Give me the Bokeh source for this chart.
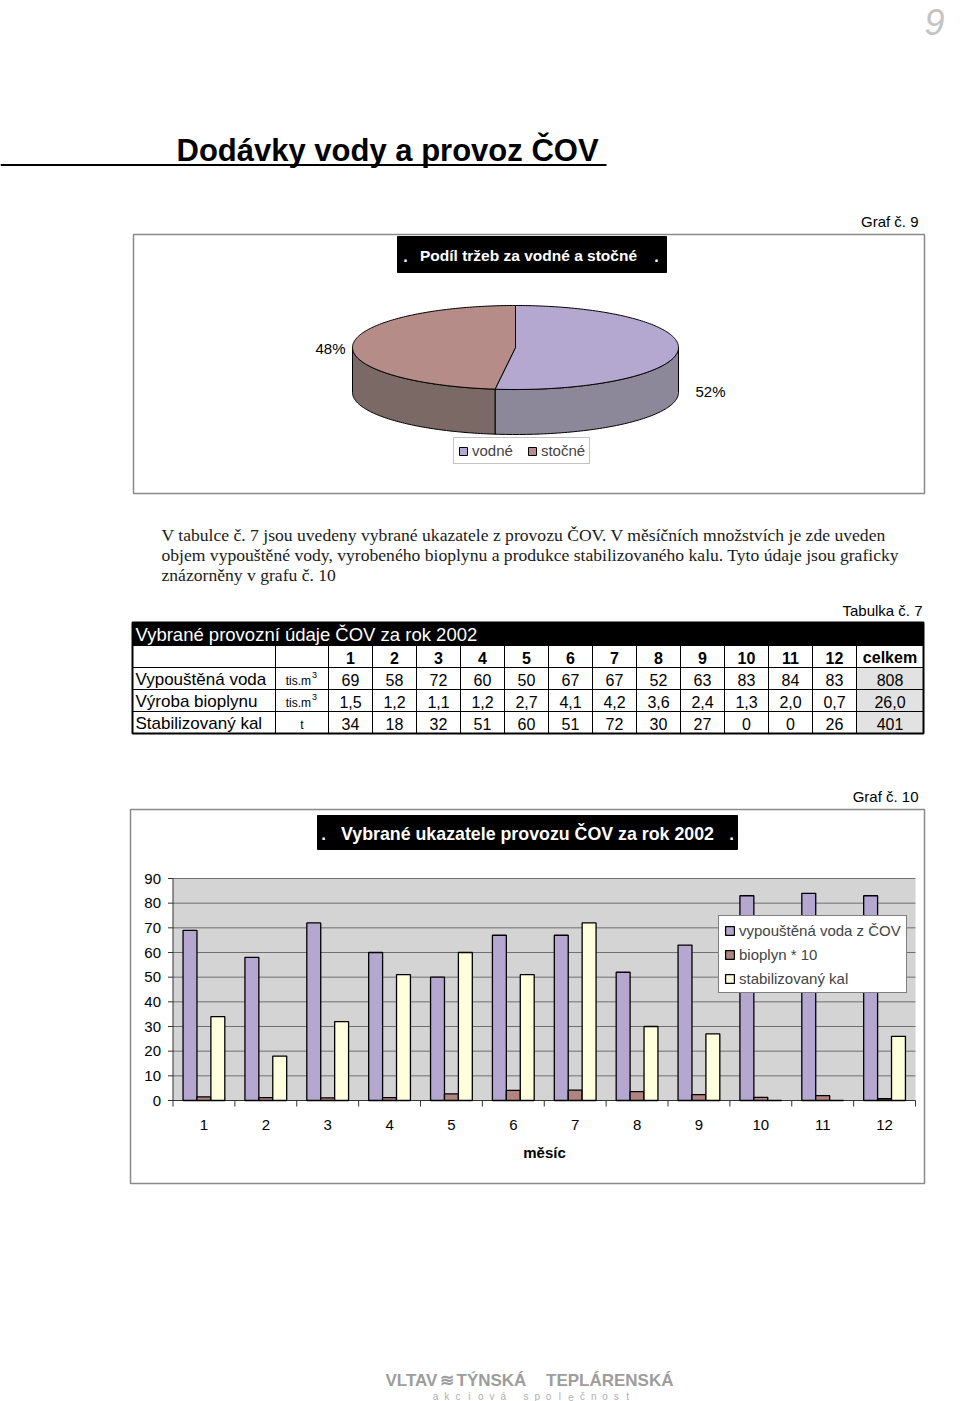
import numpy as np
from bokeh.plotting import figure
from bokeh.models import Range1d, Legend, LegendItem
from bokeh.core.properties import value
from bokeh.embed import file_html
from bokeh.resources import INLINE

# ---------------- data ----------------
pie_labels = ["vodné", "stočné"]
pie_values = [52, 48]
pie_pct_text = ["52%", "48%"]

months = [1, 2, 3, 4, 5, 6, 7, 8, 9, 10, 11, 12]
voda = [69, 58, 72, 60, 50, 67, 67, 52, 63, 83, 84, 83]
bioplyn = [1.5, 1.2, 1.1, 1.2, 2.7, 4.1, 4.2, 3.6, 2.4, 1.3, 2.0, 0.7]
kal = [34, 18, 32, 51, 60, 51, 72, 30, 27, 0, 0, 26]
totals = ["808", "26,0", "401"]
row_labels = ["Vypouštěná voda", "Výroba bioplynu", "Stabilizovaný kal"]
row_units = ["tis.m", "tis.m", "t"]
row_unit_sup = ["3", "3", ""]
series_labels = ["vypouštěná voda z ČOV", "bioplyn * 10", "stabilizovaný kal"]
y_ticks = [0, 10, 20, 30, 40, 50, 60, 70, 80, 90]

# ---------------- page canvas ----------------
W, H = 960, 1401
p = figure(width=W, height=H, x_range=Range1d(0, W), y_range=Range1d(H, 0),
           output_backend="svg", toolbar_location=None, min_border=0,
           x_axis_location=None, y_axis_location=None,
           background_fill_color="white", border_fill_color="white")
p.grid.visible = False
p.outline_line_color = None

SANS = "Liberation Sans"
SERIF = "Liberation Serif"


def txt(x, y, s, size, color="black", align="left", baseline="middle",
        font=SANS, style="normal", x_range_name="default", y_range_name="default"):
    p.text(x=[x], y=[y], text=[s], text_font=value(font), text_font_size=f"{size}px",
           text_color=color, text_align=align, text_baseline=baseline,
           text_font_style=style, x_range_name=x_range_name, y_range_name=y_range_name)


# page number and heading
txt(944, 21, "9", 36, color="#c4c4c4", align="right", style="italic")
txt(176, 150, "Dodávky vody a provoz ČOV", 31, align="left", style="bold")
p.segment(x0=[0], y0=[164.5], x1=[606], y1=[164.5], line_color="black", line_width=2)

# ---------------- pie chart (Graf č. 9) ----------------
txt(918, 221, "Graf č. 9", 15, align="right")
p.quad(left=[133], right=[924], top=[234], bottom=[493], fill_color=None,
       line_color="#8a8a8a", line_width=1.5)
p.quad(left=[397], right=[666], top=[236], bottom=[272], fill_color="black", line_color="black")
txt(405, 255, ".", 16, color="white", align="center", style="bold")
txt(528, 255, "Podíl tržeb za vodné a stočné", 15.5, color="white", align="center", style="bold")
txt(656, 255, ".", 16, color="white", align="center", style="bold")

cx, cy, rx, ry, depth = 515, 347, 163, 42, 45
top_colors = ["#b5a8d0", "#b58c87"]
side_colors = ["#8c8799", "#7b6965"]
fracs = np.array(pie_values, dtype=float) / sum(pie_values)
starts = 90 - 360 * np.concatenate([[0], np.cumsum(fracs)[:-1]])
ends = starts - 360 * fracs


def ell(t):
    r = np.radians(t)
    return cx + rx * np.cos(r), cy - ry * np.sin(r)


# sides (front half: t in [-180, 0])
for i in range(len(pie_values)):
    a, b = ends[i], starts[i]
    for k in (-360, 0, 360):
        lo, hi = max(a + k, -180), min(b + k, 0)
        if hi > lo:
            t = np.linspace(lo, hi, 80)
            xs, ys = ell(t)
            px = list(xs) + list(xs[::-1])
            py = list(ys) + list((ys + depth)[::-1])
            p.patch(px, py, fill_color=side_colors[i], line_color="black", line_width=1)

tops = []
for i in range(len(pie_values)):
    t = np.linspace(starts[i], ends[i], 160)
    xs, ys = ell(t)
    r = p.patch([cx] + list(xs), [cy] + list(ys), fill_color=top_colors[i],
                line_color="black", line_width=1)
    tops.append(r)

txt(330, 348, pie_pct_text[1], 15, align="center")
txt(710, 391, pie_pct_text[0], 15, align="center")

pie_leg = Legend(items=[LegendItem(label=pie_labels[i], renderers=[tops[i]]) for i in range(2)],
                 orientation="horizontal", location=(453, H - 464),
                 border_line_color="#8a8a8a", border_line_width=1,
                 background_fill_color="white", background_fill_alpha=1,
                 glyph_width=10, glyph_height=10, label_text_font=SANS,
                 label_text_font_size="15px", label_standoff=4, padding=4, spacing=14,
                 margin=0, label_height=14)
p.add_layout(pie_leg, "center")

# ---------------- paragraph ----------------
para = ["V tabulce č. 7 jsou uvedeny vybrané ukazatele z provozu ČOV. V měsíčních množstvích je zde uveden",
        "objem vypouštěné vody, vyrobeného bioplynu a produkce stabilizovaného kalu. Tyto údaje jsou graficky",
        "znázorněny v grafu č. 10"]
for j, line in enumerate(para):
    txt(161, 534 + 20 * j, line, 17.6, color="#1a1a1a", font=SERIF)

# ---------------- table ----------------
txt(922, 610, "Tabulka č. 7", 15, align="right")
TL, TR = 132, 923
edges = [TL, 275] + [328 + 44 * i for i in range(13)] + [TR]
row_y = [645, 667, 689, 711, 733]
p.quad(left=[TL], right=[TR], top=[622], bottom=[645], fill_color="black", line_color="black")
txt(135, 634, "Vybrané provozní údaje ČOV za rok 2002", 18.5, color="white", font=SANS)
# totals column fill
p.quad(left=[edges[-2]], right=[TR], top=[row_y[1]], bottom=[row_y[4]],
       fill_color="#e2e2e2", line_color=None)
# grid lines
for yy in row_y[1:-1]:
    p.segment(x0=[TL], y0=[yy], x1=[TR], y1=[yy], line_color="black", line_width=1)
for xx in edges[1:-1]:
    p.segment(x0=[xx], y0=[row_y[0]], x1=[xx], y1=[row_y[-1]], line_color="black", line_width=1)
p.quad(left=[TL], right=[TR], top=[622], bottom=[row_y[-1]], fill_color=None,
       line_color="black", line_width=2)

col_c = [(edges[i] + edges[i + 1]) / 2 for i in range(len(edges) - 1)]
for j, m in enumerate(months):
    txt(col_c[2 + j], 657, str(m), 16, align="center", style="bold")
txt(col_c[-1], 657, "celkem", 16, align="center", style="bold")

table_rows = [[str(v) for v in voda],
              [f"{v:.1f}".replace(".", ",") for v in bioplyn],
              [str(v) for v in kal]]
for r in range(3):
    yc = (row_y[r + 1] + row_y[r + 2]) / 2 + 1
    txt(135, yc, row_labels[r], 17)
    if row_unit_sup[r]:
        txt(col_c[1] + 9, yc + 1, row_units[r], 12, align="right")
        txt(col_c[1] + 10, yc - 5, row_unit_sup[r], 9, align="left")
    else:
        txt(col_c[1], yc + 1, row_units[r], 12, align="center")
    for j in range(12):
        txt(col_c[2 + j], yc, table_rows[r][j], 16, align="center")
    txt(col_c[-1], yc, totals[r], 16, align="center")

# ---------------- bar chart (Graf č. 10) ----------------
txt(918, 796, "Graf č. 10", 15, align="right")
p.quad(left=[130], right=[924], top=[809], bottom=[1183], fill_color=None,
       line_color="#8a8a8a", line_width=1.5)
p.quad(left=[317], right=[737], top=[815], bottom=[849], fill_color="black", line_color="black")
txt(323, 833, ".", 17, color="white", align="center", style="bold")
txt(527, 833, "Vybrané ukazatele provozu ČOV za rok 2002", 17.8, color="white",
    align="center", style="bold")
txt(731, 833, ".", 17, color="white", align="center", style="bold")

PL, PR, PT, PB = 172.5, 915.0, 878.0, 1100.0   # plot area on the page
ymax = y_ticks[-1]
kx = (PR - PL) / len(months)
ky = (PB - PT) / ymax
p.extra_x_ranges = {"bx": Range1d(0.5 - PL / kx, len(months) + 0.5 + (W - PR) / kx)}
p.extra_y_ranges = {"by": Range1d(-(H - PB) / ky, ymax + PT / ky)}

p.quad(left=[0.5], right=[len(months) + 0.5], bottom=[0], top=[ymax], fill_color="#d4d4d4",
       line_color=None, x_range_name="bx", y_range_name="by")
for t in y_ticks[1:]:
    p.segment(x0=[0.5], y0=[t], x1=[len(months) + 0.5], y1=[t], line_color="#6f6f6f",
              line_width=1, x_range_name="bx", y_range_name="by")
# axes
p.segment(x0=[0.5], y0=[0], x1=[0.5], y1=[ymax], line_color="#333333", line_width=1,
          x_range_name="bx", y_range_name="by")
p.segment(x0=[0.5], y0=[0], x1=[len(months) + 0.5], y1=[0], line_color="#333333", line_width=1,
          x_range_name="bx", y_range_name="by")
p.segment(x0=[PL - 5] * len(y_ticks), y0=y_ticks, x1=[PL] * len(y_ticks), y1=y_ticks,
          line_color="#333333", x_range_name="default", y_range_name="by")
bnd = [m - 0.5 for m in months] + [len(months) + 0.5]
p.segment(x0=bnd, y0=[PB] * len(bnd), x1=bnd, y1=[PB + 6] * len(bnd),
          line_color="#333333", x_range_name="bx", y_range_name="default")
p.text(x=[PL - 12] * len(y_ticks), y=y_ticks, text=[str(t) for t in y_ticks],
       text_font=value(SANS), text_font_size="15px", text_align="right",
       text_baseline="middle", x_range_name="default", y_range_name="by")
p.text(x=months, y=[PB + 24] * len(months), text=[str(m) for m in months],
       text_font=value(SANS), text_font_size="15px", text_align="center",
       text_baseline="middle", x_range_name="bx", y_range_name="default")
txt(544, 1152, "měsíc", 15, align="center", style="bold")

bw = 0.225
bar_colors = ["#b4a7d0", "#b08580", "#ffffde"]
series = [voda, bioplyn, kal]
bars = []
for s in range(3):
    xs = [m + (s - 1) * bw for m in months]
    r = p.vbar(x=xs, top=series[s], bottom=0, width=bw, fill_color=bar_colors[s],
               line_color="black", line_width=1.3, x_range_name="bx", y_range_name="by")
    bars.append(r)

bar_leg = Legend(items=[LegendItem(label=series_labels[i], renderers=[bars[i]]) for i in range(3)],
                 location=(718, H - 993), border_line_color="black", border_line_width=1,
                 background_fill_color="white", background_fill_alpha=1,
                 glyph_width=11, glyph_height=11, label_text_font=SANS,
                 label_text_font_size="15px", label_standoff=4, padding=5, spacing=6,
                 margin=0, label_height=18)
p.add_layout(bar_leg, "center")

# ---------------- footer ----------------
FC = "#9d9d9d"
txt(385, 1380, "VLTAV", 17, color=FC, align="left", style="bold")
txt(446, 1380, "≋", 17, color=FC, align="center", style="bold")
txt(456, 1380, "TÝNSKÁ", 17, color=FC, align="left", style="bold")
txt(673, 1380, "TEPLÁRENSKÁ", 17, color=FC, align="right", style="bold")
footer_letters = list("akciová") + [""] + list("společnost")
for i, ch in enumerate(footer_letters):
    if ch:
        txt(435 + 11.3 * i, 1396, ch, 10, color="#b0b0b0", align="center")

open("out.html", "w").write(file_html(p, INLINE))
